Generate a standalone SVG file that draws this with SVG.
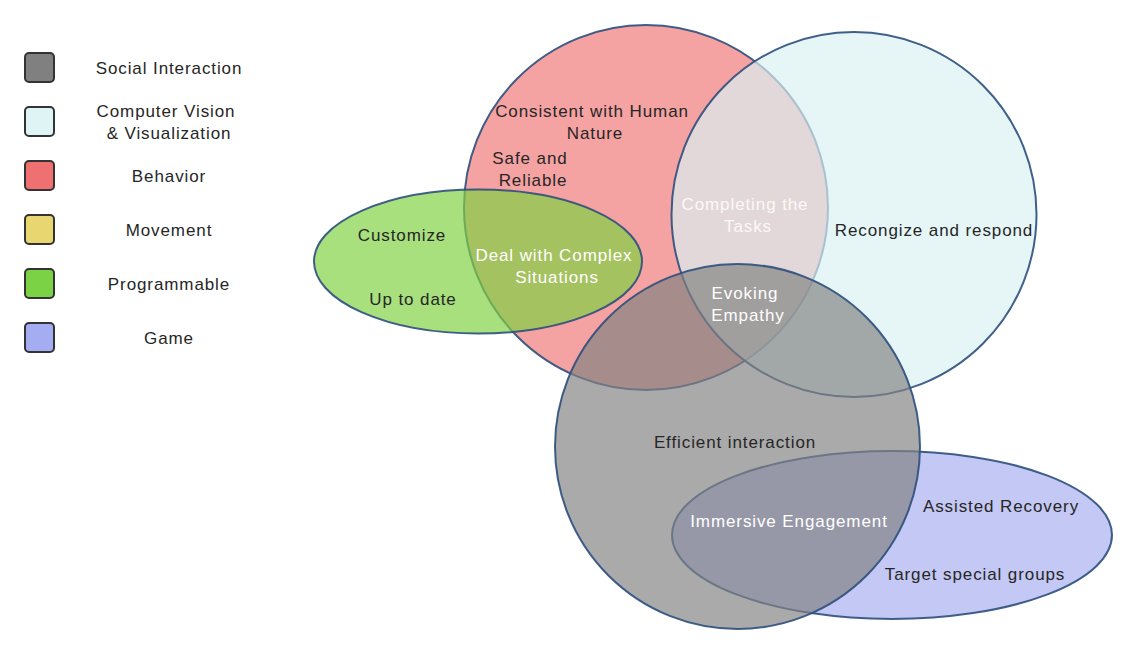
<svg xmlns="http://www.w3.org/2000/svg" width="1137" height="654" viewBox="0 0 1137 654">
<style>
text{font-family:"Liberation Sans",Arial,sans-serif;font-size:17px;letter-spacing:0.9px;fill:#262626;text-anchor:middle}
.w{fill:#ffffff}
.sw{stroke:#333;stroke-width:2}
.set{fill-opacity:0.68;stroke:#2c4f7c;stroke-width:2;stroke-opacity:0.9}
</style>
<rect width="1137" height="654" fill="#fff"/>
<g id="legend">
<g id="leg-social"><rect x="25" y="53" width="29" height="29" rx="4" fill="#808080" class="sw"/><text x="169" y="74">Social Interaction</text></g>
<g id="leg-cv"><rect x="25" y="107" width="29" height="29" rx="4" fill="#dff5f5" class="sw"/><text x="166" y="117">Computer Vision</text><text x="169" y="139">&amp; Visualization</text></g>
<g id="leg-behavior"><rect x="25" y="161" width="29" height="29" rx="4" fill="#ee7070" class="sw"/><text x="169" y="182">Behavior</text></g>
<g id="leg-movement"><rect x="25" y="215" width="29" height="29" rx="4" fill="#e8d670" class="sw"/><text x="169" y="236">Movement</text></g>
<g id="leg-prog"><rect x="25" y="269" width="29" height="29" rx="4" fill="#7bd245" class="sw"/><text x="169" y="290">Programmable</text></g>
<g id="leg-game"><rect x="25" y="323" width="29" height="29" rx="4" fill="#a4acf2" class="sw"/><text x="169" y="344">Game</text></g>
</g>
<g id="sets">
<ellipse id="behavior" cx="646" cy="207.5" rx="182" ry="182.5" fill="#ef7676" class="set"/>
<ellipse id="programmable" cx="478" cy="261.5" rx="164" ry="72" fill="#7fd141" class="set"/>
<ellipse id="cv" cx="854" cy="214.5" rx="182.5" ry="182.5" fill="#daf2f3" class="set"/>
<ellipse id="game" cx="892" cy="535" rx="220" ry="84" fill="#a8aeef" class="set"/>
<ellipse id="social" cx="737.5" cy="446.5" rx="182.5" ry="182.5" fill="#828282" class="set"/>
</g>
<g id="labels">
<text x="592" y="117">Consistent with Human</text>
<text x="595" y="139">Nature</text>
<text x="530" y="164">Safe and</text>
<text x="533" y="186">Reliable</text>
<text x="402" y="241">Customize</text>
<text x="413" y="305">Up to date</text>
<text class="w" x="554" y="261">Deal with Complex</text>
<text class="w" x="557" y="283">Situations</text>
<text class="w" x="745" y="210" fill-opacity="0.85">Completing the</text>
<text class="w" x="748" y="232" fill-opacity="0.85">Tasks</text>
<text x="934" y="236">Recongize and respond</text>
<text class="w" x="745" y="299">Evoking</text>
<text class="w" x="748" y="321">Empathy</text>
<text x="735" y="448">Efficient interaction</text>
<text class="w" x="789" y="527">Immersive Engagement</text>
<text x="1001" y="512">Assisted Recovery</text>
<text x="975" y="580">Target special groups</text>
</g>
</svg>
